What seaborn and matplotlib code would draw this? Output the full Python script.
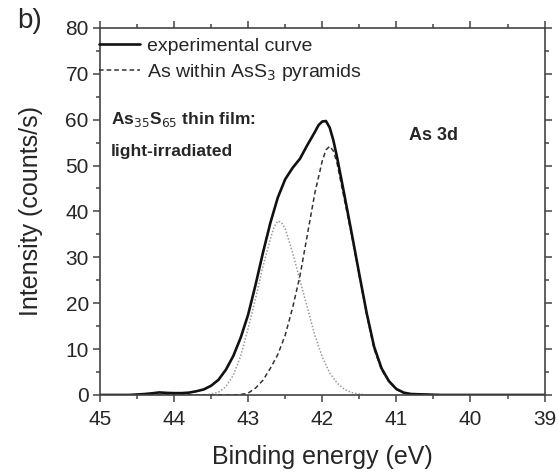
import pandas as pd
import matplotlib.pyplot as plt
import seaborn as sns
from matplotlib.ticker import MultipleLocator

# experimental As 3d spectrum (binding energy in eV, intensity in counts/s)
exp_energy = [45.0, 44.6, 44.5, 44.4, 44.3, 44.2, 44.1, 44.0, 43.9, 43.8,
              43.7, 43.6, 43.5, 43.4, 43.3, 43.2, 43.1, 43.0, 42.9, 42.8,
              42.7, 42.6, 42.5, 42.4, 42.3, 42.2, 42.1, 42.05, 42.0, 41.95,
              41.9, 41.85, 41.8, 41.7, 41.6, 41.5, 41.4, 41.3, 41.2, 41.1,
              41.0, 40.9, 40.8, 40.6, 40.4, 39.0]
exp_counts = [0, 0, 0.1, 0.2, 0.35, 0.55, 0.45, 0.4, 0.4, 0.5,
              0.8, 1.2, 2.0, 3.3, 5.5, 8.5, 12.5, 17.5, 24.0, 31.0,
              37.5, 43.0, 47.0, 49.5, 51.5, 54.5, 57.3, 58.8, 59.6, 59.7,
              58.3, 55.5, 51.8, 43.5, 35.0, 26.3, 17.8, 10.5, 5.8, 3.0,
              1.3, 0.5, 0.2, 0.1, 0, 0]

# fitted component: As within AsS3 pyramids (dashed)
pyr_energy = [45.0, 43.2, 43.1, 43.0, 42.9, 42.8, 42.7, 42.6, 42.5, 42.4,
              42.3, 42.2, 42.1, 42.0, 41.95, 41.9, 41.85, 41.8, 41.7, 41.6,
              41.5, 41.4, 41.3, 41.2, 41.1, 41.0, 40.9, 40.8, 40.6, 40.4,
              39.0]
pyr_counts = [0, 0, 0.1, 0.4, 1.5, 3.2, 5.8, 8.8, 13.0, 19.0,
              26.0, 35.0, 44.0, 51.0, 53.4, 54.2, 53.2, 50.5, 42.5, 34.5,
              26.0, 17.5, 10.0, 5.5, 3.0, 1.2, 0.4, 0.2, 0.1, 0, 0]

# second fitted component (dotted)
oth_energy = [45.0, 43.6, 43.5, 43.4, 43.3, 43.2, 43.1, 43.0, 42.9, 42.8,
              42.7, 42.65, 42.6, 42.55, 42.5, 42.4, 42.3, 42.2, 42.1, 42.0,
              41.9, 41.8, 41.7, 41.6, 41.5, 41.4, 39.0]
oth_counts = [0, 0, 0.2, 0.6, 1.8, 4.3, 8.5, 14.5, 21.0, 28.0,
              34.0, 36.6, 37.9, 37.6, 36.3, 31.0, 25.0, 19.0, 13.0, 8.3,
              4.8, 2.6, 1.2, 0.5, 0.2, 0, 0]

sns.set_style("ticks")
plt.rcParams['font.family'] = ['Liberation Sans', 'DejaVu Sans']

fig, ax = plt.subplots(figsize=(5.58, 4.73), dpi=100)
fig.subplots_adjust(left=0.179, right=0.976, top=0.941, bottom=0.165)

df_exp = pd.DataFrame({'E': exp_energy, 'I': exp_counts})
df_pyr = pd.DataFrame({'E': pyr_energy, 'I': pyr_counts})
df_oth = pd.DataFrame({'E': oth_energy, 'I': oth_counts})

sns.lineplot(data=df_oth, x='E', y='I', ax=ax, color='#9a9a9a', lw=1.1,
             linestyle=(0, (1, 1.2)))
sns.lineplot(data=df_pyr, x='E', y='I', ax=ax, color='#333333', lw=1.1,
             linestyle=(0, (3, 2)), label='As within AsS$_3$ pyramids')
sns.lineplot(data=df_exp, x='E', y='I', ax=ax, color='#111111', lw=1.9,
             label='experimental curve')

ax.set_xlim(45, 39)
ax.set_ylim(0, 80)
ax.xaxis.set_major_locator(MultipleLocator(1))
ax.xaxis.set_minor_locator(MultipleLocator(0.5))
ax.yaxis.set_major_locator(MultipleLocator(10))
ax.yaxis.set_minor_locator(MultipleLocator(5))
ax.tick_params(which='both', direction='out', top=True, right=True,
               labeltop=False, labelright=False, color='#444444', width=1.1)
ax.tick_params(which='major', length=5, labelsize=15)
ax.tick_params(axis='x', which='major', pad=6)
ax.tick_params(axis='y', which='major', pad=3)
ax.tick_params(which='minor', length=3)
for sp in ax.spines.values():
    sp.set_visible(True)
    sp.set_linewidth(1.2)
    sp.set_color('#444444')

ax.set_xlabel('Binding energy (eV)', fontsize=18, labelpad=11)
ax.set_ylabel('Intensity (counts/s)', fontsize=18, labelpad=16)

h, l = ax.get_legend_handles_labels()
ax.legend(h[::-1], l[::-1], loc='upper left', bbox_to_anchor=(-0.01, 0.985),
          frameon=False, fontsize=14, handlelength=2.1, handletextpad=0.35,
          labelspacing=0.35, borderaxespad=0.0, borderpad=0.2)

ax.text(44.85, 60, 'As$_{35}$S$_{65}$ thin film:', fontsize=12.5,
        fontweight='bold', va='center')
ax.text(44.85, 53, 'light-irradiated', fontsize=12.5, fontweight='bold',
        va='center')
ax.text(40.83, 56.5, 'As 3d', fontsize=13, fontweight='bold', va='center')

fig.text(0.03, 0.955, 'b)', fontsize=20, va='center')

fig.savefig('out.png', dpi=100)
